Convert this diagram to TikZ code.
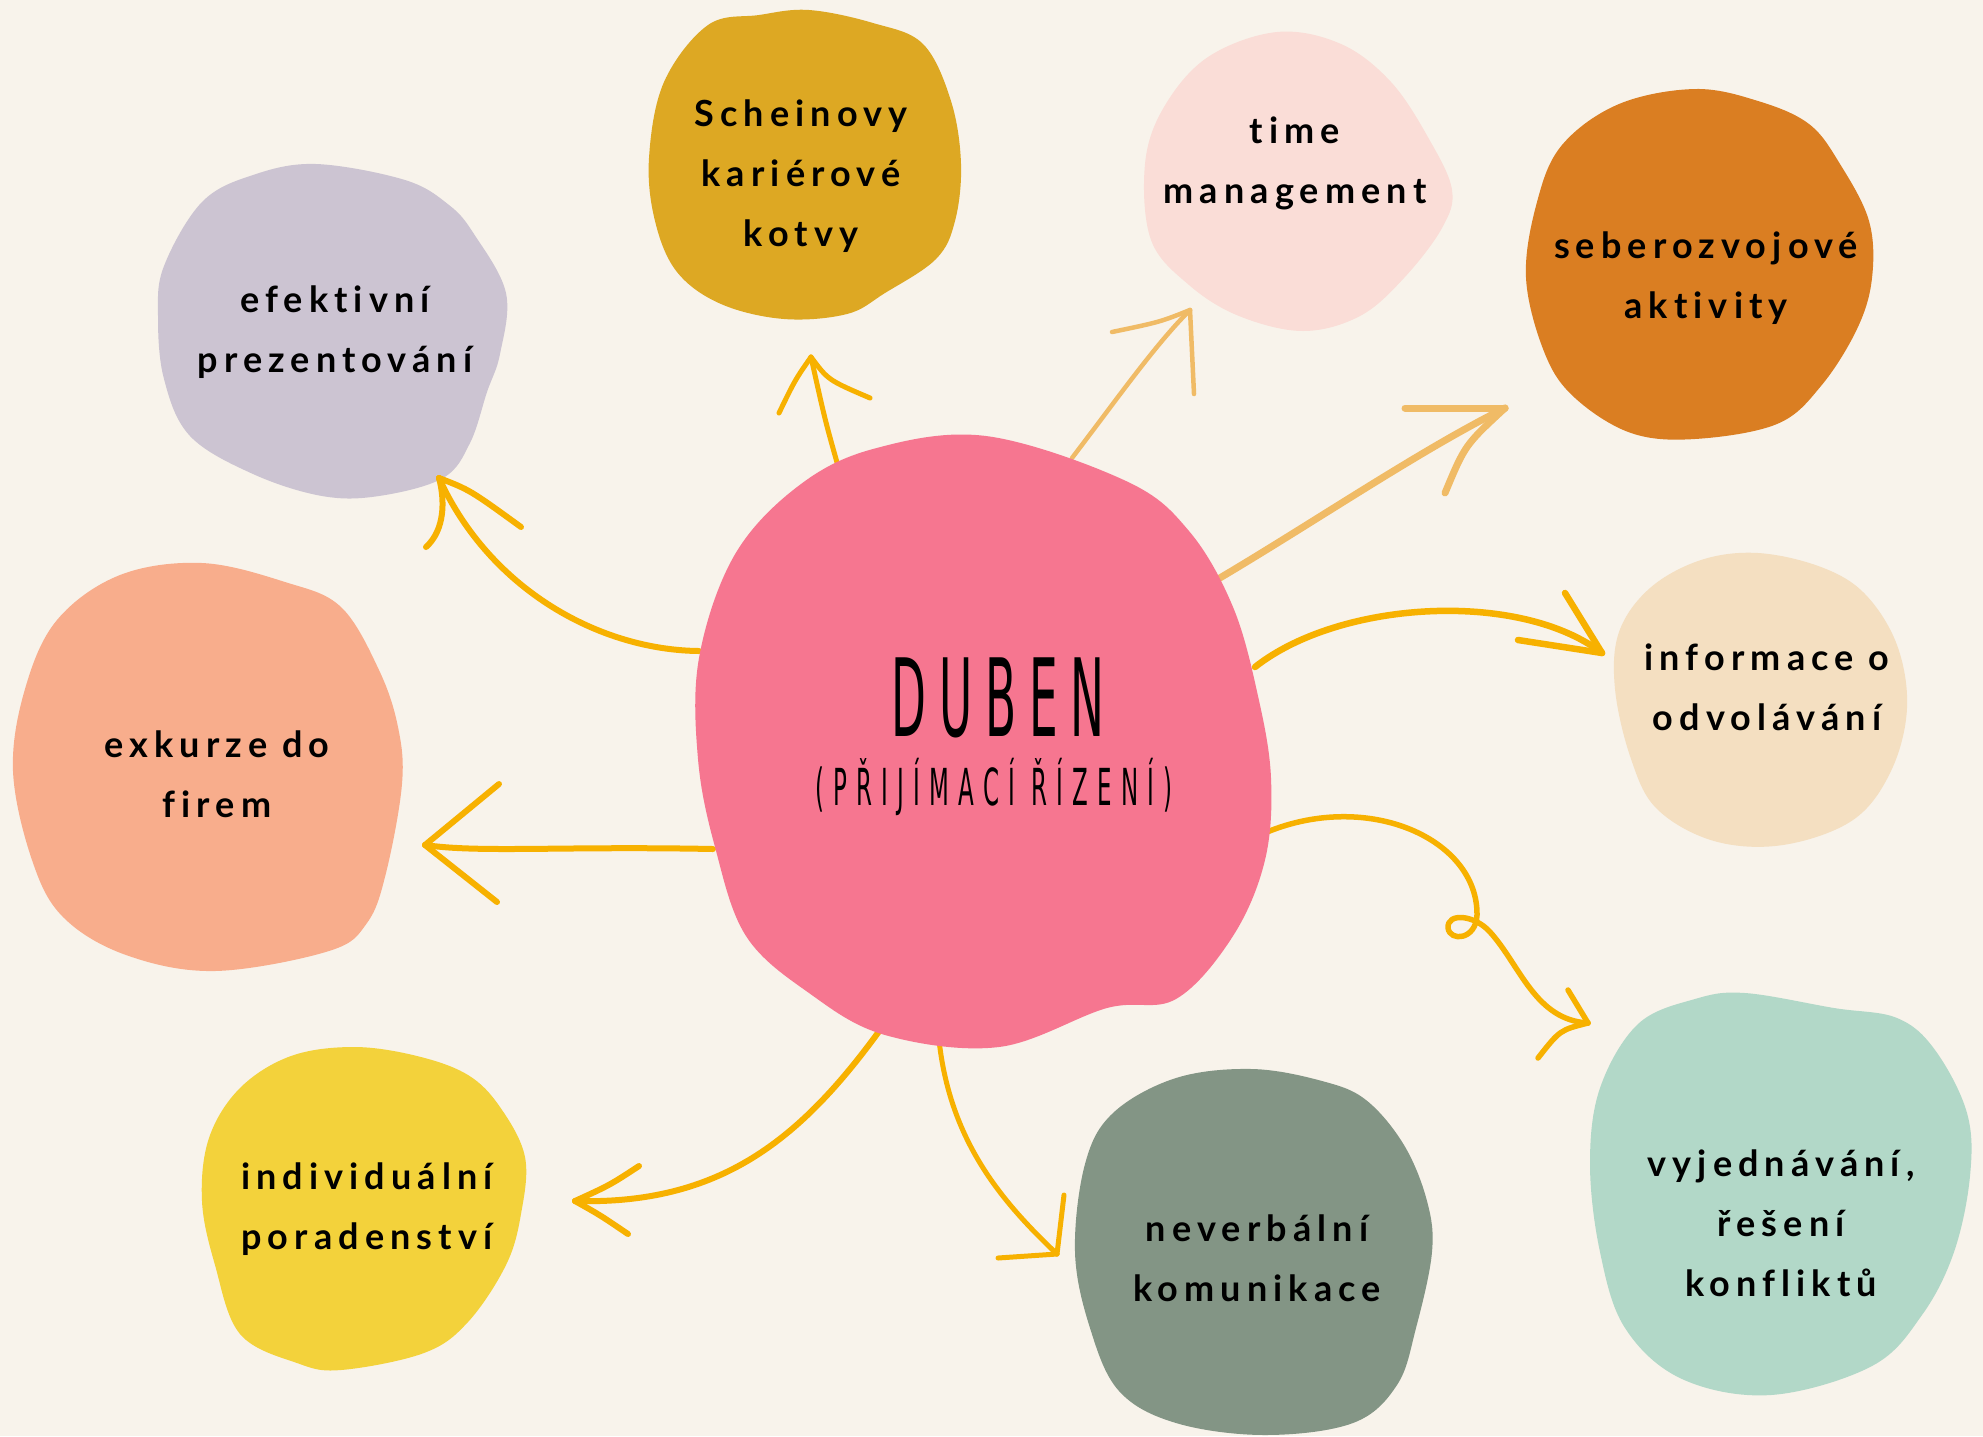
\documentclass[tikz,border=0pt]{standalone}
\usepackage{fontspec}
\setmainfont{Lato}
\newfontfamily\labfont[LetterSpace=17,Ligatures={NoCommon,NoRequired,NoContextual}]{Lato}
\newfontfamily\bigfont[FakeStretch=0.42,LetterSpace=12]{DejaVu Sans}
\newfontfamily\subfont[FakeStretch=0.45,LetterSpace=18]{DejaVu Sans}
\definecolor{bgc}{HTML}{F8F3EB}
\definecolor{lavc}{HTML}{CCC4D2}
\definecolor{mustc}{HTML}{DDA823}
\definecolor{lpinkc}{HTML}{FADDD7}
\definecolor{orgc}{HTML}{DA7E22}
\definecolor{beigec}{HTML}{F4DFC1}
\definecolor{mintc}{HTML}{B2D8C8}
\definecolor{gregc}{HTML}{839585}
\definecolor{yelc}{HTML}{F3D23B}
\definecolor{salc}{HTML}{F8AD8C}
\definecolor{pinkc}{HTML}{F67690}
\definecolor{amberc}{HTML}{F7B100}
\definecolor{lorgc}{HTML}{F0BB66}
\tikzset{
  lab/.style={align=center, text=black, font=\labfont\bfseries\fontsize{36}{60}\selectfont},
  arrA/.style={draw=amberc, line width=6pt, line cap=round, line join=round},
  arrB/.style={draw=lorgc, line width=6pt, line cap=round, line join=round},
  blob/.style={smooth cycle, tension=0.6}
}
\begin{document}
\begin{tikzpicture}[x=1pt,y=-1pt]
\useasboundingbox (0,0) rectangle (1983,1436);
\fill[bgc] (0,0) rectangle (1983,1436);

% blobs
\fill[lavc] plot[blob] coordinates {(316,164) (405,180) (449,205) (474,234) (506,293) (500,354) (487,392) (470,443) (443,478) (379,496) (322,496) (253,474) (190,436) (164,379) (158,316) (164,266) (202,202) (253,175)};
\fill[mustc] plot[blob] coordinates {(809,10) (873,23) (923,44) (951,101) (961,164) (955,221) (936,259) (885,293) (847,314) (784,319) (721,304) (677,272) (655,221) (649,158) (664,82) (708,25) (759,15)};
\fill[lpinkc] plot[blob] coordinates {(1277,32) (1341,44) (1391,82) (1429,139) (1452,190) (1442,228) (1404,278) (1360,316) (1303,331) (1239,316) (1189,285) (1151,240) (1145,164) (1164,107) (1208,57)};
\fill[orgc] plot[blob] coordinates {(1695,89) (1758,101) (1809,124) (1840,164) (1869,221) (1872,278) (1857,329) (1821,386) (1777,424) (1695,439) (1631,433) (1575,398) (1545,354) (1526,278) (1537,202) (1562,145) (1619,104)};
\fill[beigec] plot[blob] coordinates {(1758,553) (1821,567) (1865,594) (1897,645) (1907,708) (1891,771) (1853,820) (1783,845) (1714,841) (1657,809) (1631,759) (1615,689) (1619,632) (1650,588) (1701,560)};
\fill[mintc] plot[blob] coordinates {(1745,993) (1834,1008) (1897,1018) (1935,1050) (1967,1113) (1970,1176) (1954,1252) (1922,1315) (1872,1366) (1771,1395) (1682,1379) (1625,1328) (1600,1252) (1590,1164) (1600,1088) (1638,1024) (1695,999)};
\fill[gregc] plot[blob] coordinates {(1252,1069) (1322,1081) (1366,1100) (1404,1145) (1427,1201) (1432,1252) (1416,1328) (1397,1385) (1353,1423) (1265,1435) (1176,1423) (1119,1391) (1090,1328) (1075,1252) (1085,1164) (1113,1113) (1176,1078)};
\fill[yelc] plot[blob] coordinates {(354,1047) (417,1056) (468,1075) (500,1107) (525,1157) (521,1214) (506,1265) (468,1322) (424,1353) (341,1370) (297,1363) (240,1334) (215,1265) (202,1201) (209,1138) (240,1088) (291,1056)};
\fill[salc] plot[blob] coordinates {(202,563) (285,582) (341,607) (379,670) (398,727) (402,784) (386,873) (367,923) (329,951) (215,971) (126,955) (63,917) (32,860) (13,771) (25,689) (57,620) (120,575)};

% arrow end points
\coordinate (a1s) at (699,651); \coordinate (a1t) at (439,478);
\coordinate (a2s) at (838,466); \coordinate (a2t) at (811,357);
\coordinate (a3s) at (1072,458); \coordinate (a3t) at (1190,310);
\coordinate (a4s) at (1213,582); \coordinate (a4t) at (1505,408);
\coordinate (a5s) at (1255,667); \coordinate (a5t) at (1602,653);
\coordinate (a6s) at (1267,832); \coordinate (a6t) at (1588,1023);
\coordinate (a7s) at (939,1040); \coordinate (a7t) at (1057,1254);
\coordinate (a8s) at (880,1030); \coordinate (a8t) at (575,1201);
\coordinate (a9s) at (713,849); \coordinate (a9t) at (425,845);

% arrows
\draw[arrA] (a1s) .. controls (600,650) and (490,590) .. (a1t);
\draw[arrA] (a1t) .. controls (470,490) .. (521,527);
\draw[arrA] (a1t) .. controls (445,500) and (445,530) .. (426,547);

\draw[arrA, line width=5pt] (a2s) .. controls (825,420) .. (a2t);
\draw[arrA, line width=5pt] (a2t) .. controls (795,380) .. (779,413);
\draw[arrA, line width=5pt] (a2t) .. controls (828,380) .. (870,398);

\draw[arrB, line width=4.5pt] (a3s) .. controls (1120,395) and (1155,345) .. (a3t);
\draw[arrB, line width=4.5pt] (a3t) .. controls (1160,322) .. (1112,332);
\draw[arrB, line width=4.5pt] (a3t) -- (1194,394);

\draw[arrB, line width=7pt] (a4s) .. controls (1310,525) and (1420,450) .. (a4t);
\draw[arrB, line width=7pt] (a4t) .. controls (1450,408) .. (1405,408);
\draw[arrB, line width=7pt] (a4t) .. controls (1465,445) .. (1445,493);

\draw[arrA, line width=6.5pt] (a5s) .. controls (1340,600) and (1520,590) .. (a5t);
\draw[arrA, line width=6.5pt] (a5t) -- (1565,593);
\draw[arrA, line width=6.5pt] (a5t) -- (1518,640);

\draw[arrA, line width=5.5pt] (a6s) .. controls (1370,790) and (1478,840) .. (1477,915)
   .. controls (1476,940) and (1450,942) .. (1448,928)
   .. controls (1447,912) and (1475,915) .. (1490,932)
   .. controls (1520,965) and (1535,1020) .. (a6t);
\draw[arrA, line width=5.5pt] (a6t) -- (1568,990);
\draw[arrA, line width=5.5pt] (a6t) .. controls (1560,1030) .. (1538,1058);

\draw[arrA, line width=5pt] (a7s) .. controls (950,1140) and (1000,1200) .. (a7t);
\draw[arrA, line width=5pt] (a7t) -- (1064,1195);
\draw[arrA, line width=5pt] (a7t) -- (998,1258);

\draw[arrA] (a8s) .. controls (800,1140) and (720,1205) .. (a8t);
\draw[arrA] (a8t) .. controls (610,1185) .. (639,1166);
\draw[arrA] (a8t) .. controls (600,1215) .. (628,1234);

\draw[arrA] (a9s) .. controls (560,846) and (480,853) .. (a9t);
\draw[arrA] (a9t) -- (499,784);
\draw[arrA] (a9t) -- (497,902);

% center blob
\fill[pinkc] plot[blob] coordinates {(986,436) (1126,481) (1189,531) (1233,607) (1258,696) (1271,778) (1265,860) (1233,936) (1176,999) (1107,1008) (999,1047) (885,1035) (809,993) (746,936) (715,847) (698,759) (699,658) (734,556) (797,487) (873,449)};

% texts
\node[anchor=base, font=\bigfont\fontsize{108}{110}\selectfont] (duben) at (998,736) {DUBEN};
\node[anchor=base, font=\subfont\fontsize{51}{55}\selectfont] (sub) at (994,805) {(PŘIJÍMACÍ ŘÍZENÍ)};

\node[lab] (t1) at (335,332) {efektivní\\prezentování};
\node[lab] (t2) at (801,176) {Scheinovy\\kariérové\\kotvy};
\node[lab] (t3) at (1295,163) {time\\management};
\node[lab] (t4) at (1706,278) {seberozvojové\\aktivity};
\node[lab] (t5) at (1767,687) {informace o\\odvolávání};
\node[lab] (t6) at (1781,1223) {vyjednávání,\\řešení\\konfliktů};
\node[lab] (t7) at (1257,1258) {neverbální\\komunikace};
\node[lab] (t8) at (367,1209) {individuální\\poradenství};
\node[lab] (t9) at (217,774) {exkurze do\\firem};
\end{tikzpicture}
\end{document}
